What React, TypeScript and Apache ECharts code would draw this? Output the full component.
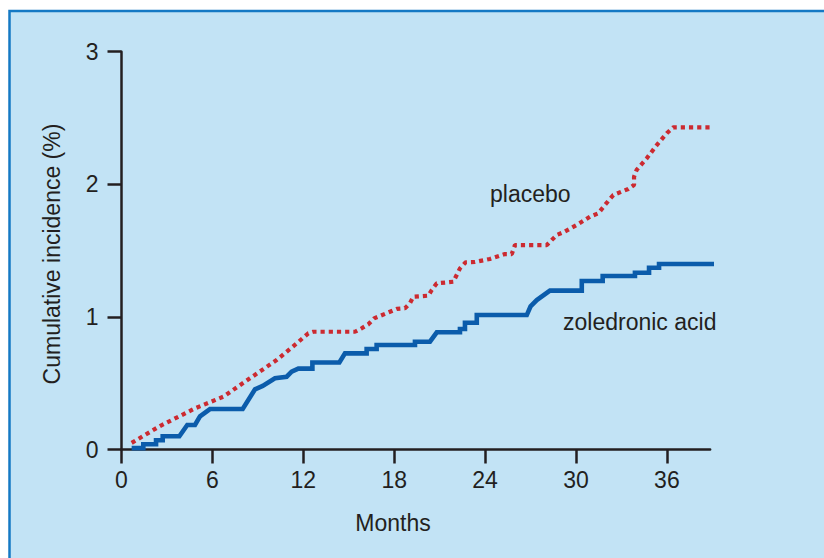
import React, { useEffect, useRef } from "react";
import * as echarts from "echarts";

const monthTicks = [0, 6, 12, 18, 24, 30, 36];

const placeboMonths = [
  0.67, 2.54, 4.85, 6.72, 8.48, 10.24, 11.56, 12.33, 12.66, 15.41, 15.85, 16.29, 16.67,
  18.17, 18.71, 19.04, 19.26, 20.25, 20.48, 20.81, 21.9, 22.34, 22.72, 23.33, 24.32,
  25.31, 25.76, 25.97, 28.07, 28.73, 29.16, 30.15, 30.92, 31.47, 31.91, 32.46, 33.45,
  33.83, 33.83, 34.0, 34.67, 35.33, 35.99, 36.42, 39.17,
];
const placeboValues = [
  0.05, 0.177, 0.31, 0.398, 0.537, 0.675, 0.8, 0.876, 0.888, 0.888, 0.914, 0.944, 0.989,
  1.06, 1.065, 1.103, 1.152, 1.16, 1.203, 1.253, 1.265, 1.366, 1.412, 1.414, 1.437,
  1.474, 1.474, 1.542, 1.542, 1.618, 1.638, 1.7, 1.756, 1.781, 1.844, 1.919, 1.965,
  1.995, 2.057, 2.108, 2.196, 2.296, 2.385, 2.43, 2.43,
];

const zoledronicMonths = [
  0.67, 1.44, 1.44, 2.28, 2.28, 2.72, 2.72, 3.82, 4.34, 4.85, 5.18, 5.84, 8.0, 8.81, 9.32,
  10.13, 10.9, 11.23, 11.67, 12.6, 12.6, 14.38, 14.75, 16.18, 16.18, 16.84, 16.84, 19.37,
  19.37, 20.36, 20.81, 22.34, 22.34, 22.67, 22.67, 23.45, 23.45, 26.75, 27.0, 27.41, 28.28,
  30.38, 30.38, 31.76, 31.76, 33.89, 33.89, 34.82, 34.82, 35.48, 35.48, 39.17,
];
const zoledronicValues = [
  0.01, 0.01, 0.04, 0.04, 0.07, 0.07, 0.1, 0.1, 0.185, 0.185, 0.25, 0.305, 0.305, 0.454,
  0.479, 0.537, 0.549, 0.587, 0.61, 0.61, 0.656, 0.656, 0.725, 0.725, 0.758, 0.758, 0.788,
  0.788, 0.813, 0.813, 0.884, 0.884, 0.909, 0.909, 0.956, 0.956, 1.014, 1.014, 1.08, 1.127,
  1.198, 1.198, 1.271, 1.271, 1.308, 1.308, 1.333, 1.333, 1.371, 1.371, 1.399, 1.399,
];

const FONT = "'Liberation Sans', Arial, Helvetica, sans-serif";
const INK = "#231f20";

export default function App() {
  const ref = useRef<HTMLDivElement>(null);

  useEffect(() => {
    if (!ref.current) return;
    const chart = echarts.init(ref.current, undefined, { renderer: "svg" });
    const placebo = placeboMonths.map((m, i) => [m, placeboValues[i]]);
    const zoledronic = zoledronicMonths.map((m, i) => [m, zoledronicValues[i]]);

    const textStyle = (text: string, align: string) => ({
      text,
      fontSize: 23,
      fontFamily: FONT,
      fill: INK,
      textAlign: align,
      textVerticalAlign: "middle",
    });

    const tickLabel = {
      fontSize: 23,
      color: INK,
      fontFamily: FONT,
      textStyle: { fontSize: 23 },
    };

    chart.setOption({
      animation: false,
      backgroundColor: "#ffffff",
      textStyle: { fontFamily: FONT, fontSize: 23, color: INK },
      grid: { left: 121.5, top: 51.7, right: 113.9, bottom: 108.5, containLabel: false },
      xAxis: {
        type: "value",
        min: 0,
        max: 38.85,
        interval: 6,
        axisLine: { show: true, onZero: false, lineStyle: { color: INK, width: 2.5 } },
        axisTick: { show: true, length: 14, customValues: monthTicks, lineStyle: { color: INK, width: 2.5 } },
        axisLabel: { ...tickLabel, customValues: monthTicks, margin: 19 },
        splitLine: { show: false },
      },
      yAxis: {
        type: "value",
        min: 0,
        max: 3,
        interval: 1,
        axisLine: { show: true, lineStyle: { color: INK, width: 2.5 } },
        axisTick: { show: true, length: 14, lineStyle: { color: INK, width: 2.5 } },
        axisLabel: { ...tickLabel, margin: 23 },
        splitLine: { show: false },
      },
      graphic: [
        {
          type: "rect",
          z: -10,
          silent: true,
          shape: { x: 9.5, y: 11, width: 900, height: 600 },
          style: { fill: "#c2e3f5", stroke: "#1479c4", lineWidth: 2.5 },
        },
        {
          type: "text",
          x: 52,
          y: 254,
          rotation: Math.PI / 2,
          silent: true,
          style: textStyle("Cumulative incidence (%)", "center"),
        },
        { type: "text", x: 393, y: 523, silent: true, style: textStyle("Months", "center") },
        { type: "text", x: 490, y: 194, silent: true, style: textStyle("placebo", "left") },
        { type: "text", x: 563, y: 321.6, silent: true, style: textStyle("zoledronic acid", "left") },
      ],
      series: [
        {
          name: "placebo",
          type: "line",
          data: placebo,
          symbol: "none",
          clip: false,
          silent: true,
          lineStyle: { color: "#cc2a30", width: 4.2, type: [4.2, 4], cap: "butt" },
          z: 3,
        },
        {
          name: "zoledronic acid",
          type: "line",
          data: zoledronic,
          symbol: "none",
          clip: false,
          silent: true,
          lineStyle: { color: "#0b5cab", width: 4.6, join: "miter" },
          z: 4,
        },
      ],
    });

    return () => chart.dispose();
  }, []);

  return (
    <div
      ref={ref}
      style={{ position: "absolute", left: 0, top: 0, width: 824, height: 558 }}
    />
  );
}
